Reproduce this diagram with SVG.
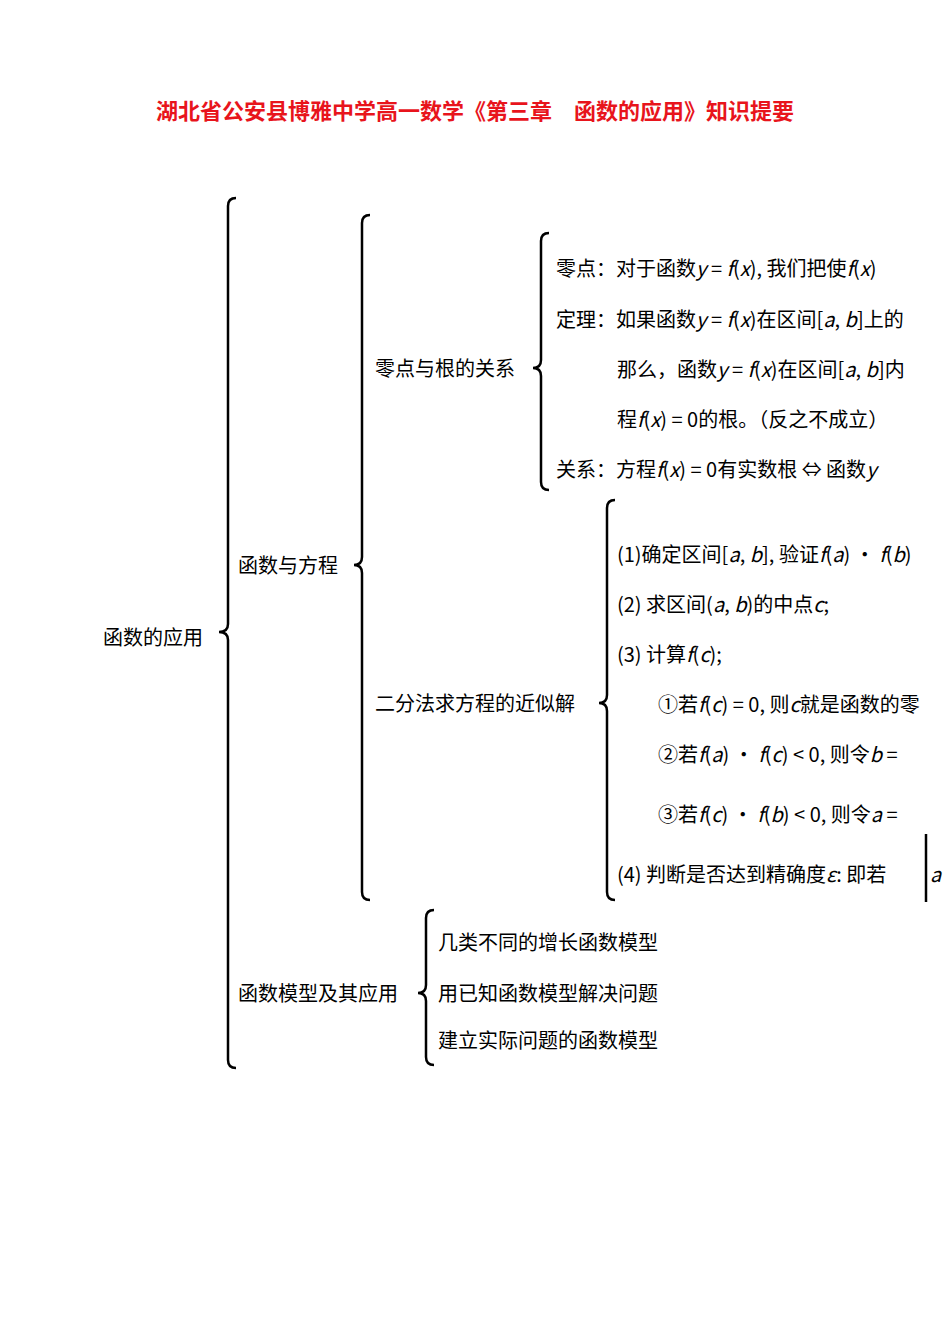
<svg xmlns="http://www.w3.org/2000/svg" width="950" height="1344" viewBox="0 0 950 1344">
<style>
text{font-family:"Noto Sans CJK SC","Liberation Serif",serif;font-size:20px;fill:#000;white-space:pre}
.t{fill:#e8141c;font-size:22px;font-weight:bold}
.b{fill:none;stroke:#000;stroke-width:2.5}
</style>
<rect width="950" height="1344" fill="#fff"/>
<text class="t" x="475" y="119" text-anchor="middle">湖北省公安县博雅中学高一数学《第三章　函数的应用》知识提要</text>
<g id="connectors">
<path class="b" d="M236 198 Q228 198 228 206 V624 Q228 632 219 632 Q228 632 228 640 V1060 Q228 1068 236 1068"/>
<path class="b" d="M370 215 Q362 215 362 223 V557 Q362 565 354 565 Q362 565 362 573 V892 Q362 900 370 900"/>
<path class="b" d="M549 233 Q541 233 541 241 V360 Q541 368 533 368 Q541 368 541 376 V482 Q541 490 549 490"/>
<path class="b" d="M615 500 Q607 500 607 508 V695 Q607 703 599 703 Q607 703 607 711 V892 Q607 900 615 900"/>
<path class="b" d="M434 910 Q426 910 426 918 V985 Q426 993 418 993 Q426 993 426 1001 V1057 Q426 1065 434 1065"/>
<path class="b" d="M926 834 V902" stroke-width="1.5"/>
</g>
<g id="root"><text x="103" y="645">函数的应用</text></g>
<g id="n1"><text x="238" y="573">函数与方程</text></g>
<g id="n2"><text x="238" y="1001">函数模型及其应用</text></g>
<g id="n3"><text x="375" y="376">零点与根的关系</text></g>
<g id="n4"><text x="375" y="711">二分法求方程的近似解</text></g>
<g id="n5">
<text x="556" y="276">零点：对于函数<tspan font-style="italic">y</tspan> = <tspan font-style="italic">f</tspan>(<tspan font-style="italic">x</tspan>), 我们把使<tspan font-style="italic">f</tspan>(<tspan font-style="italic">x</tspan>)</text>
<text x="556" y="327">定理：如果函数<tspan font-style="italic">y</tspan> = <tspan font-style="italic">f</tspan>(<tspan font-style="italic">x</tspan>)在区间[<tspan font-style="italic">a</tspan>, <tspan font-style="italic">b</tspan>]上的</text>
<text x="617" y="377">那么，函数<tspan font-style="italic">y</tspan> = <tspan font-style="italic">f</tspan>(<tspan font-style="italic">x</tspan>)在区间[<tspan font-style="italic">a</tspan>, <tspan font-style="italic">b</tspan>]内</text>
<text x="617" y="427">程<tspan font-style="italic">f</tspan>(<tspan font-style="italic">x</tspan>) = 0的根。（反之不成立）</text>
<text x="556" y="477">关系：方程<tspan font-style="italic">f</tspan>(<tspan font-style="italic">x</tspan>) = 0有实数根 ⇔ 函数<tspan font-style="italic">y</tspan></text>
</g>
<g id="n6">
<text x="617" y="562">(1)确定区间[<tspan font-style="italic">a</tspan>, <tspan font-style="italic">b</tspan>], 验证<tspan font-style="italic">f</tspan>(<tspan font-style="italic">a</tspan>) · <tspan font-style="italic">f</tspan>(<tspan font-style="italic">b</tspan>)</text>
<text x="617" y="612">(2) 求区间(<tspan font-style="italic">a</tspan>, <tspan font-style="italic">b</tspan>)的中点<tspan font-style="italic">c</tspan>;</text>
<text x="617" y="662">(3) 计算<tspan font-style="italic">f</tspan>(<tspan font-style="italic">c</tspan>);</text>
<text x="658" y="712">①若<tspan font-style="italic">f</tspan>(<tspan font-style="italic">c</tspan>) = 0, 则<tspan font-style="italic">c</tspan>就是函数的零</text>
<text x="658" y="762">②若<tspan font-style="italic">f</tspan>(<tspan font-style="italic">a</tspan>) · <tspan font-style="italic">f</tspan>(<tspan font-style="italic">c</tspan>) &lt; 0, 则令<tspan font-style="italic">b</tspan> =</text>
<text x="658" y="822">③若<tspan font-style="italic">f</tspan>(<tspan font-style="italic">c</tspan>) · <tspan font-style="italic">f</tspan>(<tspan font-style="italic">b</tspan>) &lt; 0, 则令<tspan font-style="italic">a</tspan> =</text>
<text x="617" y="882">(4) 判断是否达到精确度<tspan font-style="italic">ε</tspan>: 即若</text>
<text x="930" y="882" font-style="italic">a</text>
</g>
<g id="n7">
<text x="438" y="950">几类不同的增长函数模型</text>
<text x="438" y="1001">用已知函数模型解决问题</text>
<text x="438" y="1048">建立实际问题的函数模型</text>
</g>
</svg>
